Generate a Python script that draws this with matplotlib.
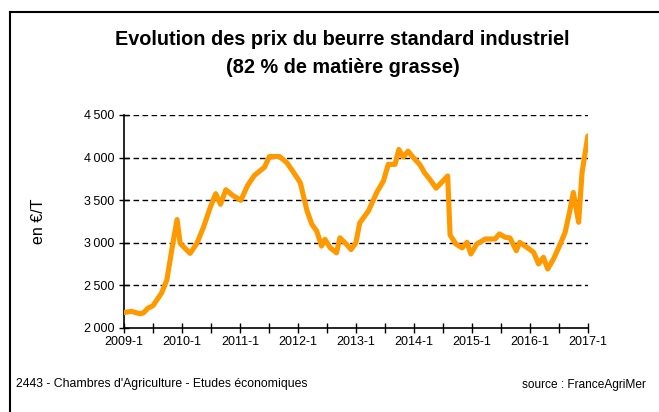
import matplotlib.pyplot as plt
from matplotlib.lines import Line2D
from matplotlib.ticker import FuncFormatter

plt.rcParams['font.family'] = ['Liberation Sans', 'DejaVu Sans']

# mois depuis 2009-1, prix en euros par tonne
mois = [0, 1.5, 3.3, 4, 5, 6, 7.8, 8.9, 9.9, 11, 11.65, 13.7, 15.1, 16.5, 17.9,
        19, 20, 21.1, 22.5, 24.2, 25.6, 27, 29.1, 30.1, 32.2, 33.7, 34.9, 36.5,
        37.9, 38.9, 39.9, 40.9, 41.6, 42.7, 44, 44.7, 46.1, 47, 48, 48.8, 50.6,
        52.3, 53.7, 54.7, 56.1, 56.9, 57.8, 58.8, 59.8, 61.2, 62.2, 63.3, 64.6,
        67, 67.5, 68.7, 70, 71, 71.8, 73, 74.8, 76.8, 77.7, 78.9, 79.9, 81.2,
        81.9, 83.4, 84.8, 85.8, 86.8, 87.7, 88.9, 90.3, 91.3, 92.2, 93, 94.1,
        94.8, 95.4, 96]
prix = [2180, 2195, 2167, 2175, 2233, 2260, 2410, 2565, 2915, 3272, 2992, 2875,
        2992, 3187, 3420, 3576, 3451, 3622, 3556, 3498, 3673, 3790, 3887, 4012,
        4012, 3941, 3843, 3706, 3373, 3216, 3137, 2961, 3040, 2941, 2882, 3058,
        2980, 2920, 2998, 3233, 3373, 3588, 3725, 3920, 3920, 4095, 4005, 4075,
        4005, 3920, 3823, 3744, 3640, 3784, 3090, 2985, 2940, 3005, 2868, 2985,
        3044, 3044, 3103, 3064, 3056, 2907, 3005, 2946, 2887, 2751, 2829, 2692,
        2809, 2985, 3122, 3356, 3590, 3240, 3823, 4038, 4253]
annees = ['2009-1', '2010-1', '2011-1', '2012-1', '2013-1', '2014-1', '2015-1',
          '2016-1', '2017-1']

fig = plt.figure(figsize=(6.59, 4.12), dpi=100)
ax = fig.add_axes([0.188, 0.204, 0.704, 0.517])

ax.plot(mois, prix, color='#FF9900', lw=3.7, solid_joinstyle='round',
        solid_capstyle='round', zorder=3)

ax.set_xlim(0, 96)
ax.set_ylim(2000, 4500)
ax.set_yticks(range(2000, 4501, 500))
ax.yaxis.set_major_formatter(FuncFormatter(
    lambda v, p: f'{int(v):,}'.replace(',', '\u2009')))
ax.set_xticks(range(0, 97, 12))
ax.set_xticklabels(annees)
ax.set_xticks(range(6, 96, 12), minor=True)
ax.tick_params(axis='both', which='both', direction='inout', length=7,
               width=1, labelsize=9, colors='black')
ax.tick_params(axis='x', pad=2)

for v in range(2500, 4501, 500):
    ax.axhline(v, color='black', lw=1, ls=(0, (4, 2.5)), zorder=1)

ax.spines['top'].set_visible(False)
ax.spines['right'].set_visible(False)
ax.spines['left'].set_linewidth(1.2)
ax.spines['bottom'].set_linewidth(1.2)

ax.set_ylabel('en €/T', fontsize=11.5, labelpad=27)

fig.text(0.52, 0.905, 'Evolution des prix du beurre standard industriel',
         ha='center', va='center', fontsize=14.3, fontweight='bold')
fig.text(0.52, 0.835, '(82 % de matière grasse)',
         ha='center', va='center', fontsize=14.3, fontweight='bold')
fig.text(0.025, 0.068, "2443 - Chambres d'Agriculture - Etudes économiques",
         fontsize=8.8, va='center')
fig.text(0.98, 0.065, 'source : FranceAgriMer', fontsize=8.6, va='center',
         ha='right')

# cadre
fig.add_artist(Line2D([0.015, 0.015], [0, 0.971], color='black', lw=1.5))
fig.add_artist(Line2D([0.015, 1], [0.971, 0.971], color='black', lw=1.5))

fig.savefig('out.png', dpi=100)
